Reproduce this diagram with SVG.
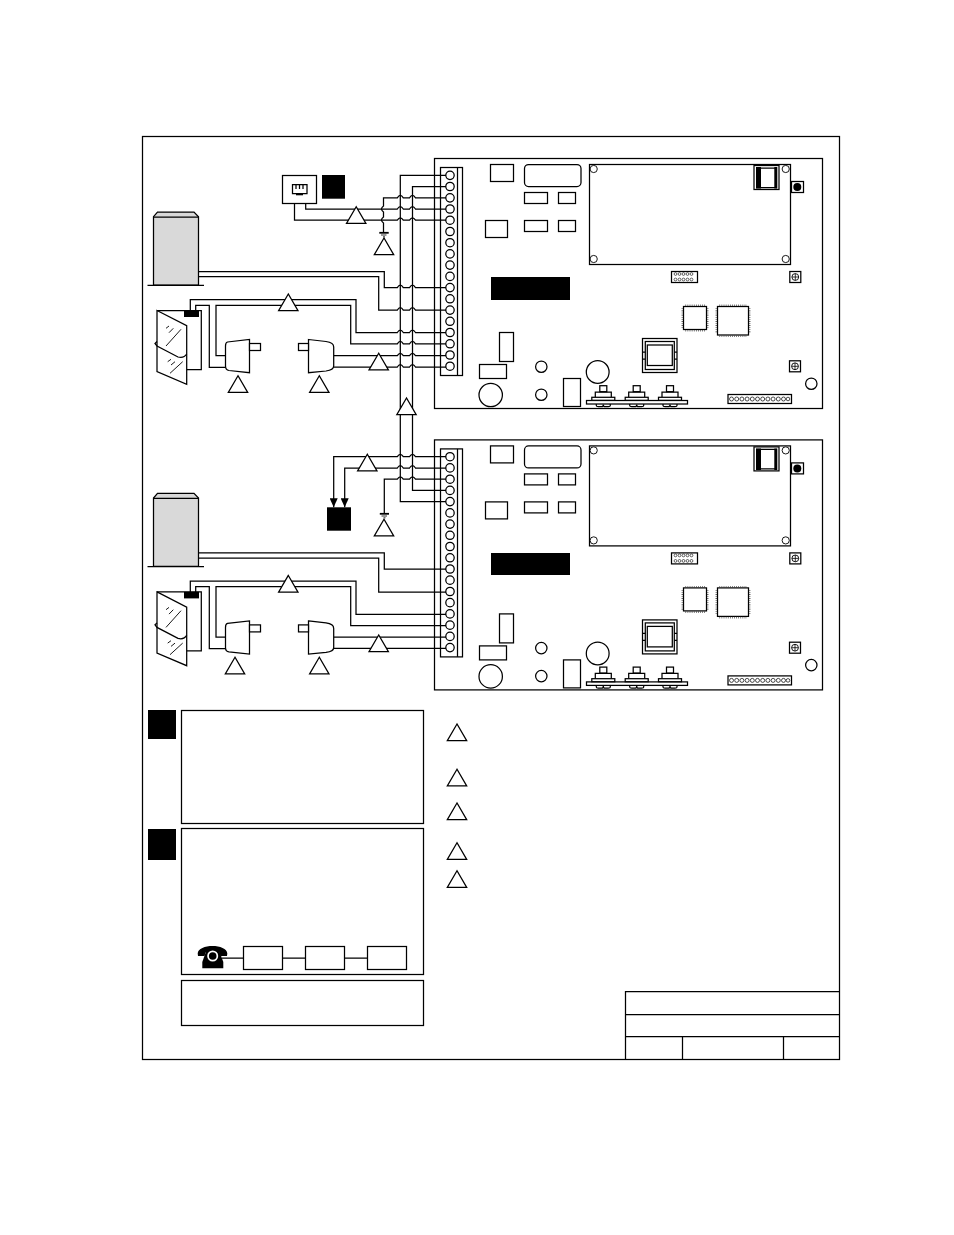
<svg xmlns="http://www.w3.org/2000/svg" width="954" height="1235" viewBox="0 0 954 1235">
<style>
.l{fill:none;stroke:#000;stroke-width:1.25}
.b{fill:#fff;stroke:#000;stroke-width:1.25}
.t{fill:#fff;stroke:#000;stroke-width:1.25;stroke-linejoin:miter}
.k{fill:#000;stroke:none}
.c{fill:#fff;stroke:#000;stroke-width:.9}
.p{fill:none;stroke:#333;stroke-width:1.6;stroke-dasharray:.6 1.5}
</style>
<defs>
<marker id="arrow" markerUnits="userSpaceOnUse" markerWidth="10" markerHeight="8" refX="9" refY="4" orient="auto" viewBox="0 0 10 8"><path d="M0 0L9 4L0 8Z" fill="#000"/></marker>
<path id="tri" class="t" d="M0 0L-9.700 16.700H9.700Z"/>
<circle id="term" r="4.200" class="b"/>
<g id="strip">
<rect x="440.500" y="167.500" width="22" height="208" class="b"/>
<path class="l" d="M457.500 167.500V375.500"/>
<use href="#term" x="450" y="175.300"/><use href="#term" x="450" y="186.500"/><use href="#term" x="450" y="197.800"/><use href="#term" x="450" y="209"/><use href="#term" x="450" y="220.200"/><use href="#term" x="450" y="231.500"/><use href="#term" x="450" y="242.700"/><use href="#term" x="450" y="253.900"/><use href="#term" x="450" y="265.100"/><use href="#term" x="450" y="276.400"/><use href="#term" x="450" y="287.600"/><use href="#term" x="450" y="298.800"/><use href="#term" x="450" y="310.100"/><use href="#term" x="450" y="321.300"/><use href="#term" x="450" y="332.500"/><use href="#term" x="450" y="343.800"/><use href="#term" x="450" y="355"/><use href="#term" x="450" y="366.200"/>
</g>
<g id="relay">
<rect x="-3.500" y="385.700" width="7" height="6" class="b"/>
<path class="l" d="M-8 397.300V392H8V397.300"/>
<rect x="-11.500" y="397.300" width="23" height="3" class="b"/>
<path class="l" d="M-7 404V405.500Q-7 406.700 -5 406.700H-1.500Q0 406.700 0 404.500Q0 406.700 1.500 406.700H5Q7 406.700 7 405.500V404"/>
</g>
<g id="screw">
<rect x="-5.500" y="-5.500" width="11" height="11" class="b"/>
<circle r="3.400" class="c"/>
<path class="l" style="stroke-width:.8" d="M-3.400 0H3.400M0 -3.400V3.400"/>
</g>
<g id="board">
<rect x="434.500" y="158.500" width="388" height="250" class="b"/>
<rect x="490.500" y="164.500" width="23" height="17" class="b"/>
<rect x="524.500" y="164.500" width="56.500" height="22" rx="4" class="b"/>
<rect x="524.500" y="192.500" width="23" height="11" class="b"/>
<rect x="558.500" y="192.500" width="17" height="11" class="b"/>
<rect x="485.500" y="220.500" width="22" height="17" class="b"/>
<rect x="524.500" y="220.500" width="23" height="11" class="b"/>
<rect x="558.500" y="220.500" width="17" height="11" class="b"/>
<rect x="589.500" y="164.500" width="201" height="100" class="b"/>
<circle cx="593.700" cy="169" r="3.600" class="c"/><circle cx="785.700" cy="169" r="3.600" class="c"/><circle cx="593.700" cy="259" r="3.600" class="c"/><circle cx="785.700" cy="259" r="3.600" class="c"/>
<rect x="754" y="165.500" width="25" height="24" class="b"/>
<path class="k" d="M756 167H761V188.500H756ZM774.300 167H777.300V188.500H774.300Z"/>
<path class="l" d="M756 168H777M756 187.500H777"/>
<rect x="791.500" y="181.500" width="12" height="11" class="b"/>
<circle cx="797.300" cy="187" r="4" class="k"/>
<rect x="671.500" y="271.500" width="26" height="11" class="b"/>
<g class="c" style="stroke-width:.6"><circle cx="675.500" cy="274" r="1.400"/><circle cx="679.500" cy="274" r="1.400"/><circle cx="683.500" cy="274" r="1.400"/><circle cx="687.500" cy="274" r="1.400"/><circle cx="691.500" cy="274" r="1.400"/><circle cx="675.500" cy="279.500" r="1.400"/><circle cx="679.500" cy="279.500" r="1.400"/><circle cx="683.500" cy="279.500" r="1.400"/><circle cx="687.500" cy="279.500" r="1.400"/><circle cx="691.500" cy="279.500" r="1.400"/></g>
<use href="#screw" x="795.300" y="277"/>
<use href="#screw" x="795" y="366.300"/>
<rect x="683.500" y="306.500" width="23" height="23" class="b"/>
<path class="p" d="M685.500 305.300H705M685.500 330.700H705M682.300 308.500V328M707.700 308.500V328"/>
<rect x="717.500" y="306.500" width="31" height="28.500" class="b"/>
<path class="p" d="M719.500 305.300H747M719.500 336.200H747M716.300 308.500V333M749.700 308.500V333"/>
<rect x="642.500" y="338.500" width="34.500" height="34" class="b"/>
<rect x="645.300" y="341.500" width="29" height="28" class="b"/>
<rect x="647.300" y="345" width="25" height="20.500" class="l"/>
<path class="l" d="M642.500 352H645.300M642.500 359H645.300M674.300 352H677M674.300 359H677"/>
<rect x="499.500" y="332.500" width="14" height="29" class="b"/>
<rect x="479.500" y="364.500" width="27" height="14" class="b"/>
<circle cx="490.700" cy="395" r="11.700" class="b"/>
<circle cx="541.300" cy="366.700" r="5.700" class="b"/>
<circle cx="541.300" cy="394.700" r="5.700" class="b"/>
<rect x="563.500" y="378.500" width="17" height="28" class="b"/>
<circle cx="597.700" cy="372" r="11.400" class="b"/>
<circle cx="811.300" cy="383.700" r="5.700" class="b"/>
<rect x="728" y="394.500" width="63.500" height="9" class="b"/>
<g class="c" style="stroke-width:.7"><circle cx="731.500" cy="399" r="2"/><circle cx="736.700" cy="399" r="2"/><circle cx="741.900" cy="399" r="2"/><circle cx="747.100" cy="399" r="2"/><circle cx="752.300" cy="399" r="2"/><circle cx="757.500" cy="399" r="2"/><circle cx="762.700" cy="399" r="2"/><circle cx="767.900" cy="399" r="2"/><circle cx="773.100" cy="399" r="2"/><circle cx="778.300" cy="399" r="2"/><circle cx="783.500" cy="399" r="2"/><circle cx="788" cy="399" r="1.800"/></g>
<rect x="586.500" y="400.500" width="101" height="3.500" class="b"/>
<use href="#relay" x="603.300"/><use href="#relay" x="636.700"/><use href="#relay" x="670"/>
<use href="#strip"/>
</g>
<g id="cabinet">
<path d="M153.500 285V216.700L157.500 212H194L198.500 216.700V285Z" fill="#d9d9d9" stroke="#000" stroke-width="1.250"/>
<path class="l" d="M153.500 217H198.500M147.500 285.300H204"/>
</g>
<g id="door">
<path class="l" d="M157 310.500H201.300V369.500H186.700"/>
<path class="b" d="M157 310.500L186.700 325.700V384.300L157 371.700Z"/>
<path class="l" d="M157 341.500L155 343.500L157 346L178 357Q184 358.500 186.700 354"/>
<path class="l" style="stroke-width:.9" d="M166 346L181 329.300M166 328.300L169 326M169 332.700L173.300 328.300M170 373.300L182.700 361.700M167.700 361.700L171 359.300M171 365L175 361.700"/>
<rect x="184" y="310.500" width="15" height="6.500" class="k"/>
</g>
<path id="senL" class="b" d="M227.500 342L249.500 339.500V372.700L229 370.500Q225.500 370 225.500 366V346Q225.500 342.500 227.500 342Z"/>
<path id="senR" class="b" d="M308.500 339.500L326 341.500Q333.700 342.500 333.700 347V366Q333.700 370 326 371L308.500 372.700Z"/>
</defs>
<rect id="frame" x="142.500" y="136.500" width="697" height="923" class="l"/>

<g id="panel-1"><use href="#board"/></g>
<g id="panel-2"><use href="#board" y="281.400"/></g>
<g id="label-panel-1"><rect x="491" y="277" width="79" height="23" class="k"/></g>
<g id="label-panel-2"><rect x="491" y="553" width="79" height="22" class="k"/></g>

<g id="connectors">
<path class="l" d="M446 175.300H400.300V501.600H446"/>
<path class="l" d="M446 186.500H412.500V490.400H446"/>
<path class="l" d="M446 197.800H415.500Q412.500 193 409.500 197.800H403.300Q400.300 193 397.300 197.800H383.500V206Q379.500 209 383.500 212V217Q379.500 220.200 383.500 223V232.500"/>
<path class="l" d="M305.700 203V209H397.300Q400.300 204.200 403.300 209H409.500Q412.500 204.200 415.500 209H446"/>
<path class="l" d="M294.500 203V220.200H397.300Q400.300 215.400 403.300 220.200H409.500Q412.500 215.400 415.500 220.200H446"/>
<path class="l" d="M198.500 271.700H384.300V287.600H397.300Q400.300 282.800 403.300 287.600H409.500Q412.500 282.800 415.500 287.600H446"/>
<path class="l" d="M198.500 276.700H378.700V310.100H397.300Q400.300 305.300 403.300 310.100H409.500Q412.500 305.300 415.500 310.100H446"/>
<path class="l" d="M190.300 310.500V299.700H356V332.500H397.300Q400.300 327.700 403.300 332.500H409.500Q412.500 327.700 415.500 332.500H446"/>
<path class="l" d="M225.500 355.700H216V305.300H350.700V343.800H397.300Q400.300 339 403.300 343.800H409.500Q412.500 339 415.500 343.800H446"/>
<path class="l" d="M195.700 310.500V305.300H209.300V367.300H225.500"/>
<path class="l" d="M333.700 355.700H397.300Q400.300 350.900 403.300 355.700H409.500Q412.500 350.900 415.500 355.700H446"/>
<path class="l" d="M333.700 367H397.300Q400.300 362.200 403.300 367H409.500Q412.500 362.200 415.500 367H446"/>
<path class="l" marker-end="url(#arrow)" d="M446 456.700H415.500Q412.500 451.900 409.500 456.700H403.300Q400.300 451.900 397.300 456.700H333.700V507.300"/>
<path class="l" marker-end="url(#arrow)" d="M446 468H415.500Q412.500 463.200 409.500 468H403.300Q400.300 463.200 397.300 468H344.700V507.300"/>
<path class="l" d="M446 479.200H415.500Q412.500 474.400 409.500 479.200H403.300Q400.300 474.400 397.300 479.200H384.300V513.500"/>
<path class="l" d="M198.500 552.900H384.300V569H446"/>
<path class="l" d="M198.500 558H378.700V592H446"/>
<path class="l" d="M190.300 591.900V581.100H356V614.300H446"/>
<path class="l" d="M225.500 637.100H216V586.700H350.700V625.700H446"/>
<path class="l" d="M195.700 591.900V586.700H209.300V648.700H225.500"/>
<path class="l" d="M333.700 637.100H446"/>
<path class="l" d="M333.700 648.400H446"/>
</g>

<g id="ground-1"><path d="M379.300 232.800H388.700" class="l" style="stroke-width:1.800"/><path d="M381 235H386.500M383 236.800H385" class="l" style="stroke-width:.8"/></g>
<g id="ground-2"><path d="M379.800 513.800H389" class="l" style="stroke-width:1.800"/><path d="M381.500 516H387M383.500 517.800H385.500" class="l" style="stroke-width:.8"/></g>

<g id="phone-jack">
<rect x="282.500" y="175.500" width="34" height="28" class="b"/>
<path class="l" d="M292.500 184.500H307V193.500H292.500ZM296 185V189M299.500 185V189M303 185V189"/>
<rect x="296" y="193.500" width="7" height="1.800" class="k"/>
</g>
<rect id="badge-a-top" x="322" y="175" width="23" height="23.700" class="k"/>
<rect id="badge-b-bottom" x="327" y="507.300" width="24" height="23.400" class="k"/>

<g id="cabinet-1"><use href="#cabinet"/></g>
<g id="cabinet-2"><use href="#cabinet" y="281.300"/></g>
<g id="door-1"><use href="#door"/></g>
<g id="door-2"><use href="#door" y="281.400"/></g>
<g id="sensor-l-1"><use href="#senL"/><rect x="249.500" y="343.500" width="11" height="7" class="b"/></g>
<g id="sensor-r-1"><use href="#senR"/><rect x="298.500" y="343.500" width="10" height="7" class="b"/></g>
<g id="sensor-l-2"><use href="#senL" y="281.400"/><rect x="249.500" y="624.900" width="11" height="7" class="b"/></g>
<g id="sensor-r-2"><use href="#senR" y="281.400"/><rect x="298.500" y="624.900" width="10" height="7" class="b"/></g>

<g id="callouts">
<use href="#tri" x="356.200" y="206.700"/>
<use href="#tri" x="384" y="238"/>
<use href="#tri" x="288.300" y="294"/>
<use href="#tri" x="378.700" y="353.300"/>
<use href="#tri" x="238" y="375.700"/>
<use href="#tri" x="319.300" y="375.700"/>
<use href="#tri" x="406.500" y="398"/>
<use href="#tri" x="367.300" y="454.300"/>
<use href="#tri" x="384" y="519.300"/>
<use href="#tri" x="288.300" y="575.400"/>
<use href="#tri" x="378.700" y="635"/>
<use href="#tri" x="235" y="657.300"/>
<use href="#tri" x="319.300" y="657.300"/>
<use href="#tri" x="457" y="724"/>
<use href="#tri" x="457" y="769.300"/>
<use href="#tri" x="457" y="803"/>
<use href="#tri" x="457" y="842.700"/>
<use href="#tri" x="457" y="870.700"/>
</g>

<g id="note-a">
<rect x="148" y="710" width="28" height="29" class="k"/>
<rect x="181.500" y="710.500" width="242" height="113" class="b"/>
</g>
<g id="note-b">
<rect x="148" y="829" width="28" height="31" class="k"/>
<rect x="181.500" y="828.500" width="242" height="146" class="b"/>
<path class="l" d="M222 958H243.500M282.500 958H305.500M344.500 958H367.500"/>
<rect x="243.500" y="946.500" width="39" height="23" class="b"/>
<rect x="305.500" y="946.500" width="39" height="23" class="b"/>
<rect x="367.500" y="946.500" width="39" height="23" class="b"/>
<g id="telephone">
<path class="k" d="M197.700 953.500C198 943.500 227 943.500 227.300 953.500L227 956H220.500L219.500 952.500H205.500L204.500 956H198Z"/>
<path class="k" d="M206 951.500H219.500L223.300 962V968.300H202.300V962Z"/>
<circle cx="212.700" cy="956" r="5.500" fill="#fff"/>
<circle cx="212.700" cy="956" r="3.800" class="k"/>
</g>
</g>
<rect id="note-c" x="181.500" y="980.500" width="242" height="45" class="b"/>

<g id="title-block">
<path class="l" d="M839.500 991.500H625.500V1059.500M625.500 1014.500H839.500M625.500 1036.500H839.500M682.500 1036.500V1059.500M783.500 1036.500V1059.500"/>
</g>
</svg>
